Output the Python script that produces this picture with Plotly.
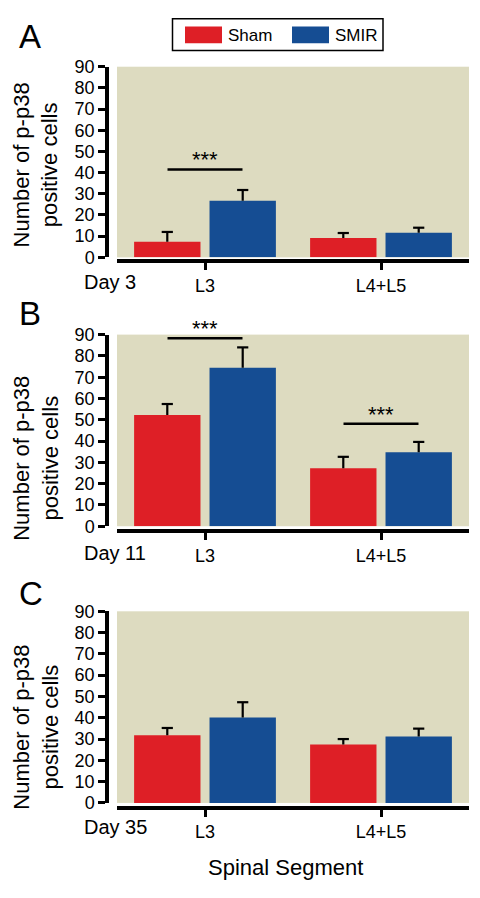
import plotly.graph_objects as go

# ---------------- data ----------------
segments = ["L3", "L4+L5"]
groups = ["Sham", "SMIR"]
day_labels = ["Day 3", "Day 11", "Day 35"]
panel_letters = ["A", "B", "C"]

sham_day3 = [7.4, 9.2]
sham_day3_sem = [4.6, 2.3]
smir_day3 = [26.7, 11.6]
smir_day3_sem = [5.1, 2.4]

sham_day11 = [52.3, 27.2]
sham_day11_sem = [5.1, 5.4]
smir_day11 = [74.4, 34.7]
smir_day11_sem = [9.6, 4.9]

sham_day35 = [31.8, 27.5]
sham_day35_sem = [3.4, 2.5]
smir_day35 = [40.1, 31.2]
smir_day35_sem = [7.2, 3.7]

y_ticks = [0, 10, 20, 30, 40, 50, 60, 70, 80, 90]

# significance: (panel index, category index, line value)
sig_marks = [(0, 0, 41.5), (1, 0, 88.3), (1, 1, 48.1)]

# ---------------- style ----------------
W, H = 480, 898
RED = "#DE1F26"
BLUE = "#154D93"
BG = "#DDDBC0"
FONT = "Liberation Sans, Arial, sans-serif"

def px_x(p):
    return p / W

def px_y(p):
    return 1 - p / H

# pixel geometry of each panel: (top of 90, bottom of 0, x-axis line y, title centre y, letter y, day label y)
panels = [
    (58, 253, 257, 159, 27, 278),
    (332, 528, 533, 459, 310, 555),
    (615, 811, 816, 734, 597, 836),
]
x_dom = [px_x(117), px_x(469)]
y_axis_pos = px_x(107)

sham_vals = [sham_day3, sham_day11, sham_day35]
sham_sems = [sham_day3_sem, sham_day11_sem, sham_day35_sem]
smir_vals = [smir_day3, smir_day11, smir_day35]
smir_sems = [smir_day3_sem, smir_day11_sem, smir_day35_sem]

fig = go.Figure()
annotations = []
shapes = []
layout_axes = {}

for i, (top, bot, xline, tcy, lety, dayy) in enumerate(panels):
    sfx = "" if i == 0 else str(i + 1)
    xa, ya = "x" + sfx, "y" + sfx
    series = [
        (groups[0], sham_vals[i], sham_sems[i], RED),
        (groups[1], smir_vals[i], smir_sems[i], BLUE),
    ]
    for name, vals, sems, col in series:
        fig.add_trace(go.Bar(
            x=segments, y=vals, name=name, marker_color=col,
            marker_line_width=0, showlegend=False,
            offsetgroup=name, xaxis=xa, yaxis=ya,
        ))
    # upward-only error bars: cap marker at mean+sem, stem down to the bar top
    for name, vals, sems, col in series:
        fig.add_trace(go.Scatter(
            x=segments, y=[v + s for v, s in zip(vals, sems)],
            mode="markers", offsetgroup=name, showlegend=False,
            xaxis=xa, yaxis=ya, hoverinfo="skip", cliponaxis=False,
            marker=dict(symbol="line-ew", size=8, color="black",
                        line=dict(color="black", width=2.2)),
            error_y=dict(type="data", symmetric=False, array=[0] * len(sems),
                         arrayminus=sems, color="black", thickness=2.2, width=0),
        ))
    layout_axes["xaxis" + sfx] = dict(
        domain=x_dom, anchor="free", position=px_y(xline),
        range=[-0.5, 1.5], type="category",
        showline=True, linecolor="black", linewidth=4,
        ticks="outside", ticklen=7, tickwidth=3, tickcolor="black",
        tickfont=dict(size=18, color="black", family=FONT),
        showgrid=False, zeroline=False, fixedrange=True,
    )
    layout_axes["yaxis" + sfx] = dict(
        domain=[px_y(bot), px_y(top)], anchor="free", position=y_axis_pos,
        range=[0, 90], tickvals=y_ticks,
        showline=True, linecolor="black", linewidth=3.5,
        ticks="outside", ticklen=7, tickwidth=3, tickcolor="black",
        tickfont=dict(size=18, color="black", family=FONT),
        showgrid=False, zeroline=False, fixedrange=True,
    )
    annotations.append(dict(
        text="Number of p-p38<br>positive cells", textangle=-90,
        xref="paper", yref="paper", x=px_x(36), y=px_y(tcy),
        xanchor="center", yanchor="middle", showarrow=False,
        font=dict(size=22, color="black", family=FONT),
    ))
    annotations.append(dict(
        text=panel_letters[i], xref="paper", yref="paper",
        x=px_x(17), y=px_y(lety), xanchor="left", yanchor="middle",
        showarrow=False, font=dict(size=33, color="black", family=FONT),
    ))
    annotations.append(dict(
        text=day_labels[i], xref="paper", yref="paper",
        x=px_x(82), y=px_y(dayy), xanchor="left", yanchor="middle",
        showarrow=False, font=dict(size=20, color="black", family=FONT),
    ))

for (pi, ci, val) in sig_marks:
    sfx = "" if pi == 0 else str(pi + 1)
    shapes.append(dict(type="line", xref="x" + sfx, yref="y" + sfx,
                       x0=ci - 0.213, x1=ci + 0.213, y0=val, y1=val,
                       line=dict(color="black", width=2.5)))
    annotations.append(dict(
        text="***", xref="x" + sfx, yref="y" + sfx, x=ci, y=val,
        xanchor="center", yanchor="bottom", yshift=-5, showarrow=False,
        font=dict(size=22, color="black", family=FONT),
    ))

annotations.append(dict(
    text="Spinal Segment", xref="paper", yref="paper",
    x=px_x(285), y=px_y(877), xanchor="center", yanchor="middle",
    showarrow=False, font=dict(size=22, color="black", family=FONT),
))

# legend box
shapes.append(dict(type="rect", xref="paper", yref="paper",
                   x0=px_x(172.5), x1=px_x(383), y0=px_y(41.5), y1=px_y(9),
                   line=dict(color="black", width=1.5), fillcolor="white"))
shapes.append(dict(type="rect", xref="paper", yref="paper",
                   x0=px_x(185), x1=px_x(222), y0=px_y(34), y1=px_y(17),
                   line=dict(width=0), fillcolor=RED))
shapes.append(dict(type="rect", xref="paper", yref="paper",
                   x0=px_x(292), x1=px_x(329), y0=px_y(34), y1=px_y(17),
                   line=dict(width=0), fillcolor=BLUE))
annotations.append(dict(text=groups[0], xref="paper", yref="paper",
                        x=px_x(226), y=px_y(26), xanchor="left", yanchor="middle",
                        showarrow=False, font=dict(size=17, color="black", family=FONT)))
annotations.append(dict(text=groups[1], xref="paper", yref="paper",
                        x=px_x(333), y=px_y(26), xanchor="left", yanchor="middle",
                        showarrow=False, font=dict(size=17, color="black", family=FONT)))

fig.update_layout(
    width=W, height=H,
    margin=dict(l=0, r=0, t=0, b=0),
    paper_bgcolor="white", plot_bgcolor=BG,
    barmode="group", bargap=0.143, bargroupgap=0.12,
    scattermode="group", scattergap=0.143,
    showlegend=False,
    annotations=annotations, shapes=shapes,
    font=dict(family=FONT, color="black"),
    **layout_axes,
)

fig.write_html("out.html", config={"displayModeBar": False},
               post_script="document.body.style.margin='0';")
